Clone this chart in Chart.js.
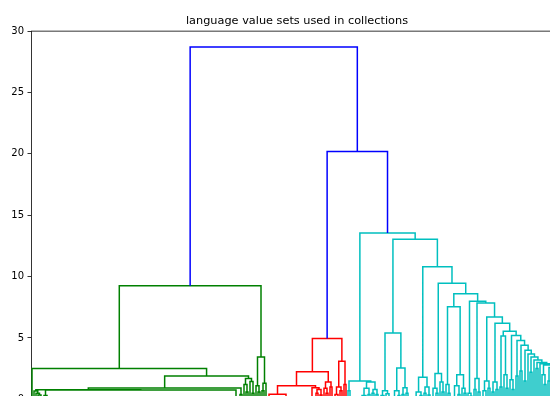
<!DOCTYPE html>
<html>
<head>
<meta charset="utf-8">
<script src="https://cdn.jsdelivr.net/npm/chart.js@4.4.1/dist/chart.umd.min.js"></script>
<style>
  html, body { margin: 0; padding: 0; overflow: hidden; background: #fff; }
  canvas { display: block; }
</style>
</head>
<body>
<canvas id="dendro" width="594" height="420" style="width:594px;height:420px"></canvas>
<script>
// ---- chart text and axis ----
const titleText = 'language value sets used in collections';
const yTickValues = [0, 5, 10, 15, 20, 25, 30];

// ---- colours (cluster palette in order of appearance, links above the cut) ----
const clusterPalette = ['#008000', '#ff0000', '#00bfbf'];
const aboveColour = '#0000ff';

// ---- merge tree: [height, left, right]; a plain number n = n identical entries (distance 0) ----
const rootHeights = [28.7, 20.2];

// green cluster
const greenWhiskers = [0.68, 1, [0.5, 1, [0.35, 1, [0.2, 1, 1]]]];
const greenPairs = [0.3, 1, [0.15, 1, 1]];
const greenBulk = 95;
const greenSpikes = [1.7, [1.2, 1, [0.6, 1, 1]], [1.45, 1, [0.5, 1, 1]]];
const greenTail = [3.45, [1.1, 1, [0.6, 1, 1]], [1.3, [0.7, 1, 1], 1]];
const greenTree = [9.25,
  [2.5, 1, [1.9, [0.93, [0.78, greenWhiskers, [0.76, greenPairs, greenBulk]], [0.4, 1, 1]], greenSpikes]],
  greenTail];

// red cluster
const redLeft = [1.1, [0.42, [0.2, 1, 1], 9], [0.95, 13, [0.8, [0.5, 1, 1], [0.35, 1, 1]]]];
const redMiddle = [1.4, [0.9, 1, [0.5, 1, 1]], [1.0, 1, 1]];
const redRight = [3.1, [1.0, [0.4, 2, 1], [0.7, 1, 1]], [1.2, 1, 1]];
const redTree = [4.95, [2.25, redLeft, redMiddle], redRight];

// cyan cluster
const cyanFirst = [1.5, [0.7, 1, 1], [1.4, [0.9, [0.3, 7, 1], [0.4, 1, 1]], [0.8, [0.5, 1, 1], [0.4, 1, 1]]]];
const cyanPair = [5.4, [0.7, [0.3, 2, 1], [0.45, 1, [0.2, 1, 1]]], [2.55, [0.7, 3, [0.3, 1, 1]], [0.95, [0.4, 1, 1], [0.5, 1, 1]]]];
const cyanMid = [1.8, [0.6, 5, [0.3, 1, 1]], [1.0, [0.5, 1, 1], [0.35, 1, 1]]];
const cyanNext = [2.1, [0.9, 2, [0.5, 1, 1]], [1.4, 1, [0.6, 1, 1]]];
const cyanFork = [7.55, [1.2, 1, [0.5, 1, 1]], [2.0, [1.1, 3, [0.4, 1, 1]], [0.9, 1, [0.5, 1, 1]]]];
// staircase: each step joins one small branch onto everything to its right
const stairHeights = [8.0, 7.85, 6.7, 6.2, 5.55, 5.2, 4.8, 4.4, 4.0, 3.7, 3.45, 3.2, 3.0, 2.9];
const stairBranches = [
  [0.5, 1, [0.25, 1, 1]],
  [1.7, [0.8, 1, 1], [0.6, 1, 1]],
  [1.5, [0.7, 2, 1], [0.9, 1, 1]],
  [1.4, [0.6, 1, 1], [0.8, 1, 1]],
  [5.15, [1.0, 1, 1], [2.0, 1, [0.9, 1, 1]]],
  [1.6, 1, [0.8, 1, 1]],
  [1.9, 1, 1],
  [2.3, 1, 1],
  [1.5, 1, 1],
  1,
  [2.2, 1, 1],
  1,
  [2.5, 1, 1],
  1
];
const stairEnd = [2.85, [2.8, [2.0, 1, [1.2, 1, 1]], [2.6, [1.5, 1, 1], [2.3, 1, [1.0, 1, 1]]]], [1.0, 1, [0.5, 1, 1]]];

let staircase = stairEnd;
for (let k = stairHeights.length - 1; k >= 0; k--) {
  staircase = [stairHeights[k], stairBranches[k], staircase];
}
const cyanTree = [13.55, cyanFirst, [13.05, cyanPair, [10.8, cyanMid, [9.45, cyanNext, [8.6, cyanFork, staircase]]]]];

const mergeTree = [rootHeights[0], greenTree, [rootHeights[1], redTree, cyanTree]];

// ---- dendrogram layout (leaves at 5, 15, 25, ... ; parent sits midway between children) ----
function countLeaves(node) {
  return typeof node === 'number' ? node : countLeaves(node[1]) + countLeaves(node[2]);
}
function maxHeight(node) {
  return typeof node === 'number' ? 0 : Math.max(node[0], maxHeight(node[1]), maxHeight(node[2]));
}

const leafCount = countLeaves(mergeTree);
const colourCut = 0.7 * maxHeight(mergeTree);
const segments = {};
let nextLeaf = 0;
let paletteIndex = 0;

function addLink(colour, pts) {
  if (!segments[colour]) segments[colour] = [];
  segments[colour].push(...pts, { x: pts[0].x, y: null });
}

function place(node, colour) {
  if (typeof node === 'number') {
    // identical entries join one after another at distance 0, on the axis itself
    let x = 10 * nextLeaf + 5;
    nextLeaf++;
    for (let k = 1; k < node; k++) {
      const x2 = 10 * nextLeaf + 5;
      nextLeaf++;
      x = (x + x2) / 2;
    }
    return { x, h: 0 };
  }
  const [h, left, right] = node;
  let own;
  let childColour;
  if (h > colourCut) {
    own = aboveColour;
    childColour = null;
  } else {
    own = colour || clusterPalette[paletteIndex++ % clusterPalette.length];
    childColour = own;
  }
  const a = place(left, childColour);
  const b = place(right, childColour);
  addLink(own, [
    { x: a.x, y: a.h },
    { x: a.x, y: h },
    { x: b.x, y: h },
    { x: b.x, y: b.h }
  ]);
  return { x: (a.x + b.x) / 2, h };
}
place(mergeTree, null);

const drawOrder = [aboveColour, ...clusterPalette];
const datasets = drawOrder.filter(c => segments[c]).map((c, i) => ({
  data: segments[c],
  showLine: true,
  spanGaps: false,
  borderColor: c,
  borderWidth: 1.5,
  pointRadius: 0,
  pointHoverRadius: 0,
  fill: false,
  order: i
}));

// frame on the remaining sides of the plot area
const frame = {
  id: 'frame',
  afterDraw(chart) {
    const { ctx, chartArea: a } = chart;
    ctx.save();
    ctx.strokeStyle = '#000';
    ctx.lineWidth = 0.8;
    ctx.beginPath();
    ctx.moveTo(a.left, a.top);
    ctx.lineTo(a.right, a.top);
    ctx.lineTo(a.right, a.bottom);
    ctx.lineTo(a.left, a.bottom);
    ctx.stroke();
    ctx.restore();
  }
};

new Chart(document.getElementById('dendro').getContext('2d'), {
  type: 'scatter',
  data: { datasets },
  options: {
    responsive: false,
    animation: false,
    devicePixelRatio: 1,
    layout: { padding: { left: 0, right: 0, top: 0, bottom: 20.7 } },
    plugins: {
      legend: { display: false },
      tooltip: { enabled: false },
      title: {
        display: true,
        text: titleText,
        color: '#000',
        font: { family: 'DejaVu Sans', size: 11.3, weight: 'normal', lineHeight: 1.2 },
        padding: { top: 14.1, bottom: 3.5 }
      }
    },
    scales: {
      x: { type: 'linear', min: 0, max: 10 * leafCount, display: false },
      y: {
        type: 'linear',
        position: 'left',
        min: 0,
        max: 30,
        afterFit(scale) { scale.width = 31; scale.paddingTop = 0; scale.paddingBottom = 0; },
        afterBuildTicks(scale) { scale.ticks = yTickValues.map(v => ({ value: v })); },
        ticks: { color: '#000', font: { family: 'DejaVu Sans', size: 10 }, padding: 3.5 },
        grid: { drawOnChartArea: false, drawTicks: true, tickLength: 3.5, tickColor: '#000', tickWidth: 0.8, color: '#000' },
        border: { display: true, color: '#000', width: 0.8 }
      },
      yRight: {
        type: 'linear',
        position: 'right',
        min: 0,
        max: 30,
        afterFit(scale) { scale.width = 31; scale.paddingTop = 0; scale.paddingBottom = 0; },
        ticks: { display: false },
        grid: { display: false, drawTicks: false },
        border: { display: false }
      }
    }
  },
  plugins: [frame]
});
</script>
</body>
</html>
